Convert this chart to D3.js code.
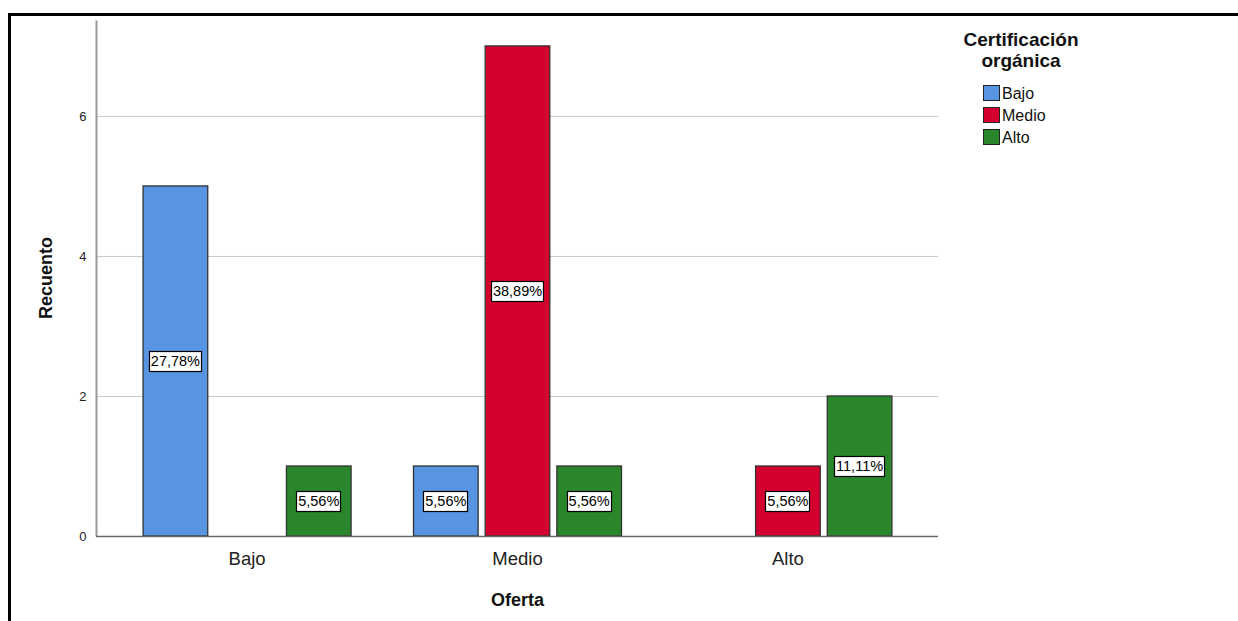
<!DOCTYPE html>
<html>
<head>
<meta charset="utf-8">
<script src="https://cdn.jsdelivr.net/npm/d3@7"></script>
<style>
  body { margin: 0; background: #fff; }
  svg { display: block; font-family: "Liberation Sans", Arial, sans-serif; }
</style>
</head>
<body>
<div id="chart"></div>
<script>
// categories on the x axis (Oferta)
var categories = ["Bajo", "Medio", "Alto"];
// legend series (Certificación orgánica)
var series = ["Bajo", "Medio", "Alto"];
// counts per series, one value per category
var bajoValues  = [5, 1, 0];
var medioValues = [0, 7, 1];
var altoValues  = [1, 1, 2];
var yTicks = [0, 2, 4, 6];
var colors = ["#5795e3", "#d3002f", "#2a862a"];

var width = 1238, height = 621;
var plot = {left: 97, right: 938, top: 20, bottom: 536};

var svg = d3.select("#chart").append("svg")
    .attr("width", width)
    .attr("height", height);

// outer frame
svg.append("rect")
    .attr("x", 9.5).attr("y", 14.5)
    .attr("width", 1300).attr("height", 700)
    .attr("fill", "none").attr("stroke", "#000").attr("stroke-width", 3);

var allValues = [bajoValues, medioValues, altoValues];
var total = d3.sum(allValues, function(v) { return d3.sum(v); });

var rows = [];
series.forEach(function(s, si) {
  categories.forEach(function(c, ci) {
    rows.push({cat: c, ser: s, si: si, value: allValues[si][ci]});
  });
});

var x = d3.scalePoint()
    .domain(categories)
    .range([plot.left, plot.right])
    .padding(0.555);

var xSub = d3.scaleBand()
    .domain(series)
    .range([-104, 104])
    .paddingInner(0.098);

var y = d3.scaleLinear()
    .domain([0, 7.37])
    .range([plot.bottom, plot.top]);

// gridlines
svg.append("g").selectAll("line")
  .data(yTicks.filter(function(t) { return t > 0; }))
  .enter().append("line")
    .attr("x1", plot.left).attr("x2", plot.right)
    .attr("y1", function(d) { return y(d) + 0.5; })
    .attr("y2", function(d) { return y(d) + 0.5; })
    .attr("stroke", "#c8c8c8").attr("stroke-width", 1);

// y axis
var yAxis = svg.append("g")
    .attr("transform", "translate(" + (plot.left - 0.5) + ",0.5)")
    .call(d3.axisLeft(y).tickValues(yTicks).tickSize(0).tickPadding(10).tickFormat(d3.format("d")));
yAxis.select(".domain").attr("stroke", "#999").attr("stroke-width", 2)
    .attr("d", "M0," + plot.top + "V" + plot.bottom);
yAxis.selectAll("text").attr("font-size", 13).attr("fill", "#222")
    .attr("font-family", "'Liberation Sans', Arial, sans-serif");

// bars
var fmt = function(v) { return d3.format(".2f")(v).replace(".", ",") + "%"; };
var bars = svg.append("g").selectAll("g")
  .data(rows.filter(function(d) { return d.value > 0; }))
  .enter().append("g");

bars.append("rect")
    .attr("x", function(d) { return x(d.cat) + xSub(d.ser); })
    .attr("y", function(d) { return y(d.value); })
    .attr("width", xSub.bandwidth())
    .attr("height", function(d) { return y(0) - y(d.value); })
    .attr("fill", function(d) { return colors[d.si]; })
    .attr("stroke", "#333").attr("stroke-width", 1.3);

// x axis baseline
svg.append("line")
    .attr("x1", plot.left - 1).attr("x2", plot.right)
    .attr("y1", plot.bottom + 0.5).attr("y2", plot.bottom + 0.5)
    .attr("stroke", "#666").attr("stroke-width", 1.5);

// percentage labels
bars.each(function(d) {
  var g = d3.select(this);
  var cx = x(d.cat) + xSub(d.ser) + xSub.bandwidth() / 2;
  var cy = y(d.value / 2);
  var t = g.append("text")
      .attr("x", cx).attr("y", cy)
      .attr("text-anchor", "middle").attr("dy", "0.36em")
      .attr("font-size", 14.5).attr("fill", "#000")
      .text(fmt(d.value / total * 100));
  var bb = t.node().getBBox();
  g.insert("rect", "text")
      .attr("x", Math.round(bb.x - 2) + 0.5).attr("y", Math.round(cy - 10) + 0.5)
      .attr("width", Math.round(bb.width + 3)).attr("height", 20)
      .attr("fill", "#fff").attr("stroke", "#000").attr("stroke-width", 1.2);
});

// x tick labels
svg.append("g").selectAll("text")
  .data(categories)
  .enter().append("text")
    .attr("x", function(d) { return x(d); })
    .attr("y", 565)
    .attr("text-anchor", "middle")
    .attr("font-size", 18.5).attr("fill", "#222")
    .text(function(d) { return d; });

// axis titles
svg.append("text")
    .attr("x", x("Medio")).attr("y", 606)
    .attr("text-anchor", "middle")
    .attr("font-size", 18).attr("font-weight", "bold").attr("fill", "#111")
    .text("Oferta");

svg.append("text")
    .attr("transform", "translate(52,278) rotate(-90)")
    .attr("text-anchor", "middle")
    .attr("font-size", 18).attr("font-weight", "bold").attr("fill", "#111")
    .text("Recuento");

// legend
var legend = svg.append("g");
legend.append("text")
    .attr("x", 1021).attr("y", 46)
    .attr("text-anchor", "middle")
    .attr("font-size", 19).attr("font-weight", "bold").attr("fill", "#111")
    .text("Certificación");
legend.append("text")
    .attr("x", 1021).attr("y", 67)
    .attr("text-anchor", "middle")
    .attr("font-size", 19).attr("font-weight", "bold").attr("fill", "#111")
    .text("orgánica");

var items = legend.selectAll(".item")
  .data(series)
  .enter().append("g")
    .attr("transform", function(d, i) { return "translate(983," + (85 + i * 22) + ")"; });
items.append("rect")
    .attr("x", 0.5).attr("y", 0.5)
    .attr("width", 16).attr("height", 15)
    .attr("fill", function(d, i) { return colors[i]; })
    .attr("stroke", "#222").attr("stroke-width", 1);
items.append("text")
    .attr("x", 19).attr("y", 14)
    .attr("font-size", 16).attr("fill", "#111")
    .text(function(d) { return d; });
</script>
</body>
</html>
